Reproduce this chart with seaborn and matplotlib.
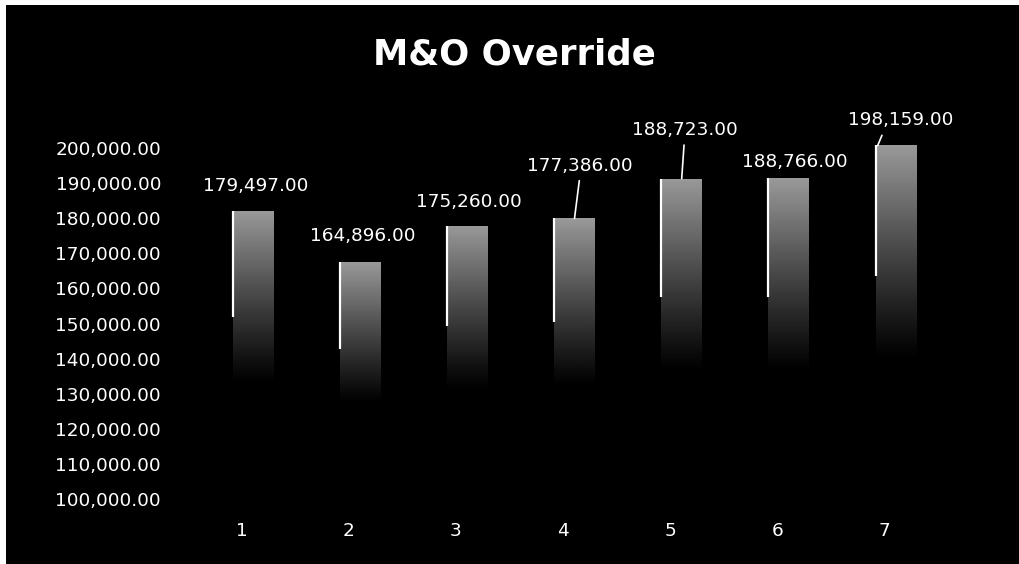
import numpy as np
import pandas as pd
import matplotlib
matplotlib.use("Agg")
import matplotlib.pyplot as plt
import seaborn as sns
from matplotlib.transforms import ScaledTranslation
from matplotlib.patches import Rectangle

# Data
categories = ["1", "2", "3", "4", "5", "6", "7"]
override_values = [179497, 164896, 175260, 177386, 188723, 188766, 198159]
y_ticks = list(range(100000, 200001, 10000))

# Placement of the value labels (offset in points from the top centre of each bar)
label_offsets = [(2, 18), (2, 19), (1, 17), (4, 38), (2, 35), (4, 12), (3, 18)]
# Where a leader line meets the bar top (fraction across the bar), None = no line
leader_targets = [None, None, None, 0.5, 0.5, None, 0.05]

sns.set_theme(style="white")
plt.rcParams["font.family"] = ["DejaVu Sans"]

fig = plt.figure(figsize=(10.2, 5.64), dpi=100, facecolor="white")
# Black chart area with a thin white margin on the top and left
fig.patches.append(Rectangle((6 / 1020, -0.05), 1.1, 1.05 - 5 / 564,
                             transform=fig.transFigure, facecolor="black",
                             edgecolor="none", zorder=-10))

ax = fig.add_axes([0.1955, 0.1312, 0.7355, 0.6223])
ax.set_facecolor("black")

df = pd.DataFrame({"period": categories, "amount": override_values})
sns.barplot(data=df, x="period", y="amount", width=0.38, color="black",
            saturation=1, edgecolor="none", errorbar=None, ax=ax)

ymin, ymax = 100000, 200000

# Vertical grey-to-black gradient inside every bar
n = 256
t = np.linspace(0, 1, n)
shade = 0.6 * np.clip(1 - t / 0.62, 0, 1) ** 1.1
grad = shade[:, None]
for p in ax.patches:
    x0, w, top = p.get_x(), p.get_width(), p.get_height()
    im = ax.imshow(grad, extent=(x0, x0 + w, ymin, top), origin="upper",
                   aspect="auto", cmap="gray", vmin=0, vmax=1,
                   interpolation="bilinear", zorder=2)
    im.set_clip_path(p)
    # light left edge on the upper part of the bar
    ax.plot([x0, x0], [top, top - 0.38 * (top - ymin)], color="white",
            lw=1.6, solid_capstyle="butt", zorder=3)

ax.set_ylim(ymin, ymax)
ax.set_xlim(-0.5, len(categories) - 0.5)

# Value labels
for p, v, (dx, dy), lead in zip(ax.patches, override_values, label_offsets, leader_targets):
    xc = p.get_x() + p.get_width() / 2
    if lead is None:
        ax.annotate(f"{v:,.2f}", xy=(xc, v), xytext=(dx, dy),
                    textcoords="offset points", ha="center", va="center",
                    color="white", fontsize=13.3, annotation_clip=False)
    else:
        xt = p.get_x() + lead * p.get_width()
        # keep the text over the bar centre while the line ends at xt
        px_c = ax.transData.transform((xc, v))[0]
        px_t = ax.transData.transform((xt, v))[0]
        shift = (px_c - px_t) * 72 / fig.dpi
        ax.annotate(f"{v:,.2f}", xy=(xt, v),
                    xytext=(dx + shift, dy), textcoords="offset points",
                    ha="center", va="center",
                    color="white", fontsize=13.3, annotation_clip=False,
                    arrowprops=dict(arrowstyle="-", color="white", lw=1.2,
                                    shrinkA=2, shrinkB=0,
                                    relpos=(0.5 if lead >= 0.5 else 0.35, 0)))

# Axes styling
for s in ax.spines.values():
    s.set_visible(False)
ax.set_xlabel("")
ax.set_ylabel("")
ax.set_yticks(y_ticks)
ax.set_yticklabels([f"{v:,.2f}" for v in y_ticks])
ax.tick_params(axis="y", length=0, pad=27.6, labelsize=13.3, colors="white")
ax.tick_params(axis="x", length=0, pad=23, labelsize=13.3, colors="white")

for lab in ax.get_yticklabels():
    lab.set_transform(lab.get_transform() + ScaledTranslation(0, -0.09, fig.dpi_scale_trans))
for lab in ax.get_xticklabels():
    lab.set_transform(lab.get_transform() + ScaledTranslation(-0.115, 0, fig.dpi_scale_trans))

fig.text(514 / 1020, 1 - 55 / 564, "M&O Override", ha="center", va="center",
         fontsize=25.6, fontweight="bold", color="white")

fig.savefig("out.png", dpi=100, facecolor=fig.get_facecolor())
